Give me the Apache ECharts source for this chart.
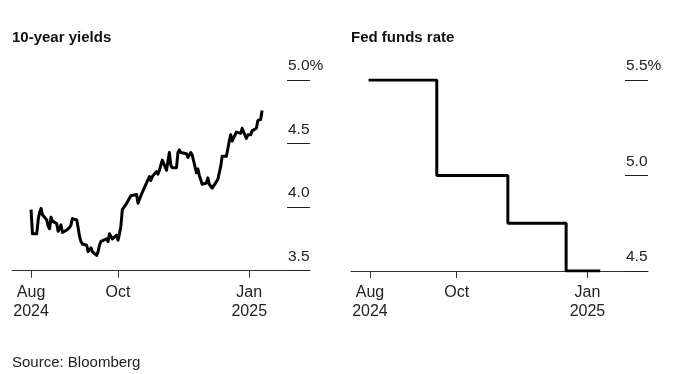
<!DOCTYPE html>
<html><head><meta charset="utf-8">
<script src="https://cdn.jsdelivr.net/npm/echarts@6/dist/echarts.min.js"></script>
<style>html,body{margin:0;padding:0;background:#fff}#c{width:680px;height:374px}</style>
</head><body><div id="c"></div>
<script>
// ---- Data ----
const yieldDates = [
'2024-08-01','2024-08-02','2024-08-05','2024-08-06','2024-08-07','2024-08-08','2024-08-09',
'2024-08-12','2024-08-13','2024-08-14','2024-08-15','2024-08-16','2024-08-19','2024-08-20',
'2024-08-21','2024-08-22','2024-08-23','2024-08-26','2024-08-27','2024-08-28','2024-08-29',
'2024-08-30','2024-09-02','2024-09-03','2024-09-04','2024-09-05','2024-09-06','2024-09-09',
'2024-09-10','2024-09-11','2024-09-12','2024-09-13','2024-09-16','2024-09-17','2024-09-18',
'2024-09-19','2024-09-20','2024-09-23','2024-09-24','2024-09-25','2024-09-26','2024-09-27',
'2024-09-30','2024-10-01','2024-10-02','2024-10-03','2024-10-04','2024-10-07','2024-10-08',
'2024-10-09','2024-10-10','2024-10-11','2024-10-14','2024-10-15','2024-10-16','2024-10-17',
'2024-10-18','2024-10-21','2024-10-22','2024-10-23','2024-10-24','2024-10-25','2024-10-28',
'2024-10-29','2024-10-30','2024-10-31','2024-11-01','2024-11-04','2024-11-05','2024-11-06',
'2024-11-07','2024-11-08','2024-11-11','2024-11-12','2024-11-13','2024-11-14','2024-11-15',
'2024-11-18','2024-11-19','2024-11-20','2024-11-21','2024-11-22','2024-11-25','2024-11-26',
'2024-11-27','2024-11-29','2024-12-02','2024-12-03','2024-12-04','2024-12-05','2024-12-06',
'2024-12-09','2024-12-10','2024-12-11','2024-12-12','2024-12-13','2024-12-16','2024-12-17',
'2024-12-18','2024-12-19','2024-12-20','2024-12-23','2024-12-24','2024-12-26','2024-12-27',
'2024-12-30','2024-12-31','2025-01-02','2025-01-03','2025-01-06','2025-01-07','2025-01-08',
'2025-01-09','2025-01-10'];
const yieldValues = [
3.98,3.79,3.79,3.90,3.96,3.99,3.94,
3.90,3.85,3.83,3.92,3.89,3.87,3.81,
3.80,3.86,3.80,3.82,3.83,3.84,3.86,
3.91,3.90,3.84,3.77,3.73,3.71,3.70,
3.65,3.65,3.68,3.65,3.62,3.65,3.70,
3.73,3.73,3.75,3.73,3.79,3.79,3.75,
3.78,3.74,3.79,3.85,3.98,4.03,4.04,
4.07,4.09,4.10,4.10,4.03,4.02,4.09,
4.08,4.19,4.20,4.24,4.21,4.24,4.28,
4.26,4.29,4.29,4.37,4.29,4.28,4.43,
4.33,4.31,4.31,4.43,4.45,4.43,4.43,
4.42,4.39,4.41,4.43,4.41,4.27,4.30,
4.25,4.18,4.19,4.23,4.18,4.18,4.15,
4.20,4.22,4.27,4.32,4.40,4.40,4.40,
4.52,4.57,4.52,4.59,4.59,4.58,4.62,
4.54,4.57,4.57,4.60,4.62,4.68,4.69,
4.69,4.76];
const fedDates = ['2024-07-31','2024-09-17','2024-11-06','2024-12-17','2025-01-10'];
const fedValues = [5.5, 5.0, 4.75, 4.5, 4.5];
const xTickDates = ['2024-08-01','2024-10-01','2025-01-01'];
const xTickLabels = ['Aug\n2024','Oct','Jan\n2025'];
const yieldsTitle = '10-year yields';
const fedTitle = 'Fed funds rate';
const sourceText = 'Source: Bloomberg';

// ---- helpers ----
const DAY = 86400000;
function ts(s){const p=s.split('-').map(Number);return Date.UTC(p[0],p[1]-1,p[2]);}
const aug1 = ts('2024-08-01');
function dayNo(s){return Math.round((ts(s)-aug1)/DAY);}
const xMin = -13.35;
const xMax = 195.6;
const xTicks = xTickDates.map(dayNo);
const FONT = '"Liberation Sans", Arial, Helvetica, sans-serif';

function xAxis(gi){
  return {
    type:'value', gridIndex:gi, min:xMin, max:xMax,
    axisLine:{show:true,onZero:false,lineStyle:{color:'#333',width:1}},
    axisTick:{show:true,customValues:xTicks,length:7,lineStyle:{color:'#333',width:1}},
    splitLine:{show:false},
    axisLabel:{
      customValues:xTicks, margin:12, fontSize:16, lineHeight:19, color:'#222', fontFamily:FONT,
      formatter:function(v){const i=xTicks.indexOf(Math.round(v));return i>=0?xTickLabels[i]:'';}
    }
  };
}
function yAxis(gi,min,max,top){
  return {
    type:'value', gridIndex:gi, position:'right', min:min, max:max, interval:0.5,
    axisLine:{show:false,onZero:false}, splitLine:{show:false},
    axisTick:{show:true,inside:true,length:23,lineStyle:{color:'#222',width:1}},
    axisLabel:{inside:true,margin:22,align:'left',verticalAlign:'bottom',padding:[0,0,6,0],
      fontSize:15.5,color:'#222',fontFamily:FONT,
      formatter:function(v){return Math.abs(v-top)<1e-9? v.toFixed(1)+'%' : v.toFixed(1);}}
  };
}

const chart = echarts.init(document.getElementById('c'),null,{renderer:'canvas'});
chart.setOption({
  animation:false,
  backgroundColor:'#fff',
  textStyle:{fontFamily:FONT},
  title:[
    {text:yieldsTitle,left:12,top:30,padding:0,textStyle:{fontSize:15,fontWeight:'bold',color:'#111',fontFamily:FONT}},
    {text:fedTitle,left:351,top:30,padding:0,textStyle:{fontSize:15,fontWeight:'bold',color:'#111',fontFamily:FONT}},
    {text:sourceText,left:12,top:355,padding:0,textStyle:{fontSize:15,fontWeight:'normal',color:'#222',fontFamily:FONT}}
  ],
  grid:[
    {left:12,width:298,top:80,height:190.7},
    {left:351,width:297,top:80,height:191}
  ],
  xAxis:[xAxis(0),xAxis(1)],
  yAxis:[yAxis(0,3.5,5.0,5.0),yAxis(1,4.5,5.5,5.5)],
  series:[
    {type:'line',xAxisIndex:0,yAxisIndex:0,showSymbol:false,
     data:yieldDates.map((d,i)=>[dayNo(d),yieldValues[i]]),
     lineStyle:{color:'#000',width:3,join:'round'}},
    {type:'line',xAxisIndex:1,yAxisIndex:1,showSymbol:false,step:'end',
     data:fedDates.map((d,i)=>[dayNo(d),fedValues[i]]),
     lineStyle:{color:'#000',width:3}}
  ]
});
</script></body></html>
